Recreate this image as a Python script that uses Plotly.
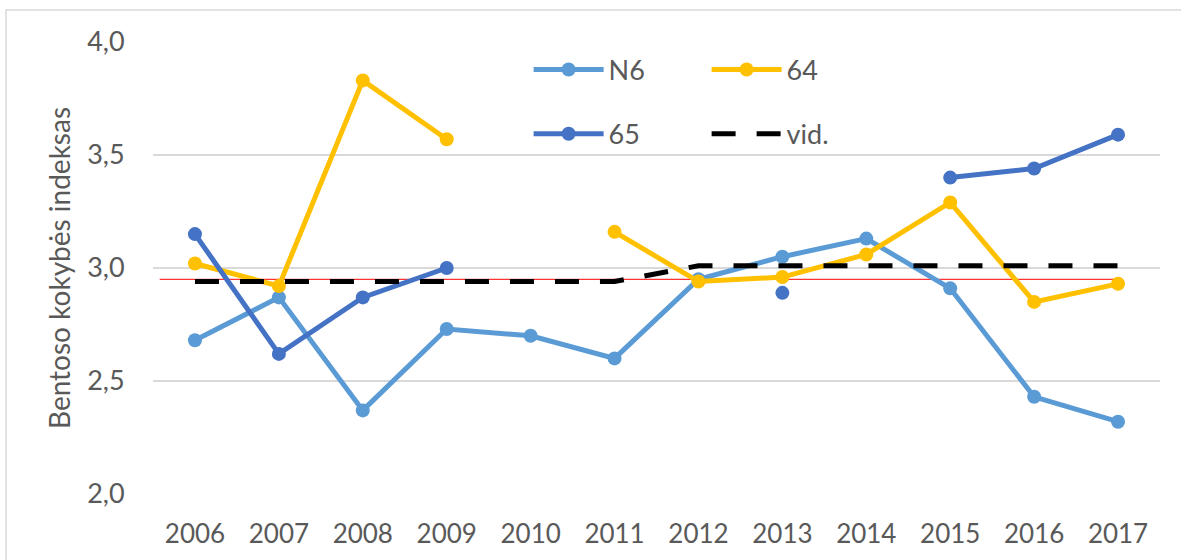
import plotly.graph_objects as go

years = ["2006", "2007", "2008", "2009", "2010", "2011",
         "2012", "2013", "2014", "2015", "2016", "2017"]

n6 = [2.68, 2.87, 2.37, 2.73, 2.70, 2.60, 2.95, 3.05, 3.13, 2.91, 2.43, 2.32]
s64 = [3.02, 2.92, 3.83, 3.57, None, 3.16, 2.94, 2.96, 3.06, 3.29, 2.85, 2.93]
s65 = [3.15, 2.62, 2.87, 3.00, None, None, None, 2.89, None, 3.40, 3.44, 3.59]
vid = [2.94, 2.94, 2.94, 2.94, 2.94, 2.94, 3.01, 3.01, 3.01, 3.01, 3.01, 3.01]

ref_level = 2.95
y_ticks = [2.0, 2.5, 3.0, 3.5, 4.0]

FONT = "Lato"
TXT = "#595959"

fig = go.Figure()

def series(name, y, color, legend):
    fig.add_trace(go.Scatter(
        x=years, y=y, name=name, mode="lines+markers",
        line=dict(color=color, width=5),
        marker=dict(color=color, size=14),
        connectgaps=False, legend=legend,
    ))

series("N6", n6, "#5B9BD5", "legend")
series("64", s64, "#FFC000", "legend")
series("65", s65, "#4472C4", "legend2")

fig.add_trace(go.Scatter(
    x=years, y=vid, name="vid.", mode="lines",
    line=dict(color="black", width=5, dash="24px,21px"),
    legend="legend2",
))

# thin red reference line
fig.add_shape(type="line", xref="x", yref="y",
              x0=-0.42, x1=11, y0=ref_level, y1=ref_level,
              line=dict(color="#FF0000", width=1), layer="between")

# chart frame
fig.add_shape(type="rect", xref="paper", yref="paper",
              x0=-0.146, x1=1.2, y0=-0.4, y1=1.0708,
              line=dict(color="#D9D9D9", width=1.5), layer="below")

legend_common = dict(
    orientation="h", xanchor="left", yanchor="middle",
    font=dict(family=FONT, size=27, color=TXT),
    bgcolor="rgba(0,0,0,0)", itemwidth=70, entrywidth=93,
    tracegroupgap=0,
)

fig.update_layout(
    width=1181, height=560,
    margin=dict(l=153, r=21, t=42, b=66),
    paper_bgcolor="white", plot_bgcolor="white",
    separators=", ",
    font=dict(family=FONT, color=TXT),
    showlegend=True,
    legend=dict(x=0.373, y=0.938, **legend_common),
    legend2=dict(x=0.373, y=0.796, **legend_common),
    xaxis=dict(
        type="category", range=[-0.5, 11.5],
        showgrid=False, zeroline=False, showline=False,
        ticks="outside", ticklen=17, tickcolor="rgba(0,0,0,0)",
        tickfont=dict(family=FONT, size=26, color=TXT),
    ),
    yaxis=dict(
        range=[2.0, 4.0], tickvals=y_ticks, tickformat=".1f",
        showgrid=True, gridcolor="#D9D9D9", gridwidth=1.5,
        zeroline=False, showline=False,
        ticks="outside", ticklen=22, tickcolor="rgba(0,0,0,0)",
        tickfont=dict(family=FONT, size=27, color=TXT),
        title=dict(text="Bentoso kokybės indeksas",
                   font=dict(family=FONT, size=28, color=TXT),
                   standoff=8),
    ),
)

fig.write_html("out.html")
